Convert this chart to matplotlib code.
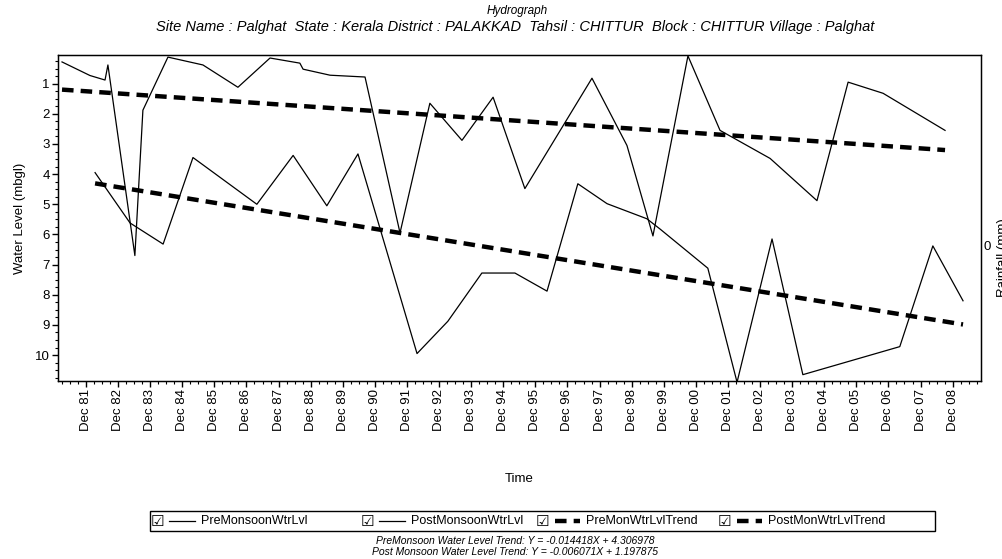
import matplotlib.pyplot as plt
import matplotlib.ticker as mticker
from matplotlib.lines import Line2D
from matplotlib.patches import Rectangle

plt.rcParams['font.family'] = ['Liberation Sans', 'DejaVu Sans']

# post monsoon water level (upper line): decimal year, mbgl
post_t = [1981.17, 1982.04, 1982.51, 1982.60, 1983.44, 1983.69, 1984.47, 1985.56,
          1986.65, 1987.65, 1988.58, 1988.68, 1989.52, 1990.61, 1991.70, 1992.63,
          1993.63, 1994.60, 1995.59, 1997.68, 1998.77, 1999.58, 2000.67, 2001.67,
          2003.23, 2004.69, 2005.66, 2006.75, 2008.68]
post_lvl = [0.28, 0.73, 0.88, 0.38, 6.70, 1.88, 0.12, 0.38,
            1.12, 0.15, 0.32, 0.52, 0.72, 0.78, 5.95, 1.65,
            2.88, 1.45, 4.48, 0.82, 3.05, 6.05, 0.08, 2.55,
            3.48, 4.88, 0.95, 1.32, 2.55]

# pre monsoon water level (lower line)
pre_t = [1982.20, 1983.29, 1984.32, 1985.25, 1987.24, 1988.37, 1989.42, 1990.39,
         1992.23, 1993.19, 1994.25, 1995.28, 1996.28, 1997.24, 1998.15, 1999.39,
         1999.80, 2001.29, 2002.20, 2003.29, 2004.25, 2007.27, 2008.30, 2009.24]
pre_lvl = [3.95, 5.62, 6.32, 3.45, 5.00, 3.38, 5.05, 3.33,
           9.95, 8.88, 7.28, 7.28, 7.88, 4.32, 4.98, 5.48,
           5.82, 7.12, 10.90, 6.15, 10.65, 9.72, 6.38, 8.20]

# trend equations (X in months from first reading)
pre_slope, pre_icpt = 0.014418, 4.306978
post_slope, post_icpt = 0.006071, 1.197875

tick_years = list(range(1981, 2009))
tick_labels = ['Dec %02d' % (y % 100) for y in tick_years]

W, H = 1003, 559
fig = plt.figure(figsize=(W / 100, H / 100), dpi=100)
ax = fig.add_axes([58 / W, 1 - 381 / H, 923 / W, 326 / H])

ax.plot(pre_t, pre_lvl, color='black', lw=0.9)
ax.plot(post_t, post_lvl, color='black', lw=0.9)

def trend(t, slope, icpt):
    ends = [t[0], t[-1]]
    return ends, [icpt + slope * 12 * (e - t[0]) for e in ends]

tx, ty = trend(pre_t, pre_slope, pre_icpt)
ax.plot(tx, ty, color='black', lw=3.2, dashes=(2.6, 1.6))
tx, ty = trend(post_t, post_slope, post_icpt)
ax.plot(tx, ty, color='black', lw=3.2, dashes=(2.6, 1.6))

ax.set_xlim(1981.045, 2009.80)
ax.set_ylim(10.86, 0.05)
ax.set_xticks([y + 11 / 12 for y in tick_years])
ax.set_xticklabels(tick_labels, rotation=90, fontsize=9.5)
ax.xaxis.set_minor_locator(mticker.AutoMinorLocator(4))
ax.set_yticks(range(1, 11))
ax.set_yticklabels([str(v) for v in range(1, 11)], fontsize=9.5)
ax.yaxis.set_minor_locator(mticker.AutoMinorLocator(4))
ax.tick_params(which='major', direction='out', length=4, width=1, pad=2)
ax.tick_params(which='minor', direction='out', length=2, width=0.8)
ax.set_xlabel('Time', fontsize=9.5, labelpad=30)
ax.set_ylabel('Water Level (mbgl)', fontsize=9.5, labelpad=6)
for s in ax.spines.values():
    s.set_linewidth(1.0)

ax2 = ax.twinx()
ax2.set_ylim(-1, 1.41)
ax2.set_yticks([0])
ax2.set_yticklabels(['0'], fontsize=9.5)
ax2.tick_params(direction='out', length=0, pad=2)
fig.text(1003 / W, 1 - 258 / H, 'Rainfall (mm)', rotation=90, ha='center',
         va='center', fontsize=9.5)

fig.text(517 / W, 1 - 11 / H, 'Hydrograph', ha='center', va='center',
         fontsize=8.5, style='italic')
fig.text(515 / W, 1 - 27 / H,
         'Site Name : Palghat  State : Kerala District : PALAKKAD  Tahsil : CHITTUR  '
         'Block : CHITTUR Village : Palghat',
         ha='center', va='center', fontsize=10.5, style='italic')

# legend box
fig.patches.append(Rectangle((150 / W, 1 - 531 / H), 785 / W, 20 / H,
                             transform=fig.transFigure, fill=False, lw=1.0,
                             edgecolor='black'))
legend_items = [
    (157, 'PreMonsoonWtrLvl', 'solid'),
    (367, 'PostMonsoonWtrLvl', 'solid'),
    (542, 'PreMonWtrLvlTrend', 'dash'),
    (724, 'PostMonWtrLvlTrend', 'dash'),
]
ly = 1 - 521 / H
for x0, name, kind in legend_items:
    fig.text(x0 / W, ly, '\u2611', ha='center', va='center', fontsize=11,
             family='DejaVu Sans')
    if kind == 'solid':
        fig.lines.append(Line2D([(x0 + 12) / W, (x0 + 38) / W], [ly, ly],
                                transform=fig.transFigure, color='black', lw=0.9))
    else:
        fig.lines.append(Line2D([(x0 + 13) / W, (x0 + 38) / W], [ly, ly],
                                transform=fig.transFigure, color='black', lw=3.2,
                                dashes=(2.6, 1.6)))
    fig.text((x0 + 44) / W, ly, name, ha='left', va='center', fontsize=9)

fig.text(515 / W, 1 - 541 / H,
         'PreMonsoon Water Level Trend: Y = -0.014418X + 4.306978',
         ha='center', va='center', fontsize=7.5, style='italic')
fig.text(515 / W, 1 - 552 / H,
         'Post Monsoon Water Level Trend: Y = -0.006071X + 1.197875',
         ha='center', va='center', fontsize=7.5, style='italic')

fig.savefig('out.png', dpi=100)
